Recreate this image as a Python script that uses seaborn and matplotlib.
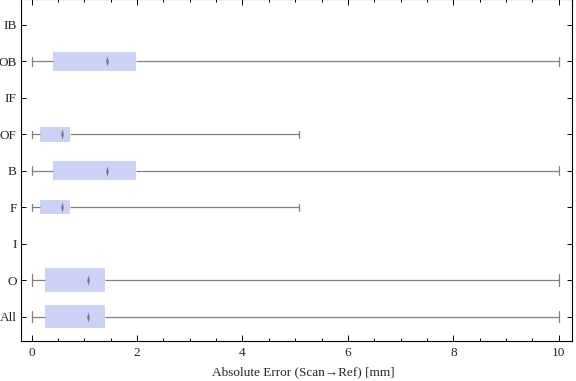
import numpy as np
import pandas as pd
import matplotlib
matplotlib.use("Agg")
import matplotlib.pyplot as plt
from matplotlib.ticker import MultipleLocator
from matplotlib.path import Path
import seaborn as sns

# categories, top to bottom
cats = ["IB", "OB", "IF", "OF", "B", "F", "I", "O", "All"]

# five-number summaries of the groups that have data (mm)
groups = ["OB", "OF", "B", "F", "O", "All"]
mins = [0.0, 0.0, 0.0, 0.0, 0.0, 0.0]
q1s = [0.40, 0.16, 0.40, 0.16, 0.25, 0.25]
medians = [1.43, 0.58, 1.43, 0.58, 1.07, 1.07]
q3s = [1.98, 0.73, 1.98, 0.73, 1.39, 1.39]
maxs = [10.0, 5.07, 10.0, 5.07, 10.0, 10.0]

# box thickness per group (style)
box_width = {"OB": 0.52, "B": 0.52, "OF": 0.40, "F": 0.40, "O": 0.64, "All": 0.64}

# long form: 5 points per group -> quartiles land exactly on the summary values
rows = []
for g, a, b, c, d, e in zip(groups, mins, q1s, medians, q3s, maxs):
    for v in (a, b, c, d, e):
        rows.append({"group": g, "value": v})
df = pd.DataFrame(rows)
med_df = pd.DataFrame({"group": groups, "value": medians})

sns.set_style("ticks")
plt.rcParams["font.family"] = ["Liberation Serif", "DejaVu Serif"]

box_color = "#CCD2F5"
line_color = "#808080"

# slim diamond like Mathematica's median marker
slim_diamond = Path([(0, 1), (0.26, 0), (0, -1), (-0.26, 0), (0, 1)],
                    [Path.MOVETO, Path.LINETO, Path.LINETO, Path.LINETO, Path.CLOSEPOLY])

fig = plt.figure(figsize=(5.76, 3.81), dpi=100)
# top edge of the frame sits just outside the image, as in the original
ax = fig.add_axes([21 / 576, 1 - 341 / 381, 551 / 576, 342 / 381])

for w in sorted(set(box_width.values())):
    sub = df[df["group"].map(box_width) == w]
    sns.boxplot(data=sub, x="value", y="group", order=cats, orient="h",
                width=w, whis=(0, 100), saturation=1, color=box_color,
                boxprops=dict(facecolor=box_color, edgecolor="none", linewidth=0),
                whiskerprops=dict(color=line_color, linewidth=0.9),
                capprops=dict(color=line_color, linewidth=0.9),
                medianprops=dict(linewidth=0, color="none"),
                showfliers=False, ax=ax)

sns.stripplot(data=med_df, x="value", y="group", order=cats, orient="h",
              jitter=False, marker=slim_diamond, size=7.5, color="#7a7a7a",
              linewidth=0, ax=ax, zorder=5)

ax.set_xlim(-0.2, 10.25)
ax.set_ylim(8.67, -0.71)
ax.xaxis.set_major_locator(MultipleLocator(2))
ax.xaxis.set_minor_locator(MultipleLocator(0.5))
ax.tick_params(axis="both", which="both", direction="in", top=True,
               right=True, color="black", labelsize=9.5, width=0.7)
ax.tick_params(axis="x", which="major", length=4, pad=4)
ax.tick_params(axis="x", which="minor", length=2.2)
ax.tick_params(axis="y", which="major", length=3.5, pad=3)
for s in ax.spines.values():
    s.set_visible(True)
    s.set_linewidth(0.8)
    s.set_color("black")

ax.set_ylabel("")
ax.set_xlabel("Absolute Error (Scan\u2192Ref) [mm]", fontsize=9.5)
ax.xaxis.set_label_coords(0.512, -0.075)

fig.savefig("out.png", dpi=100)
